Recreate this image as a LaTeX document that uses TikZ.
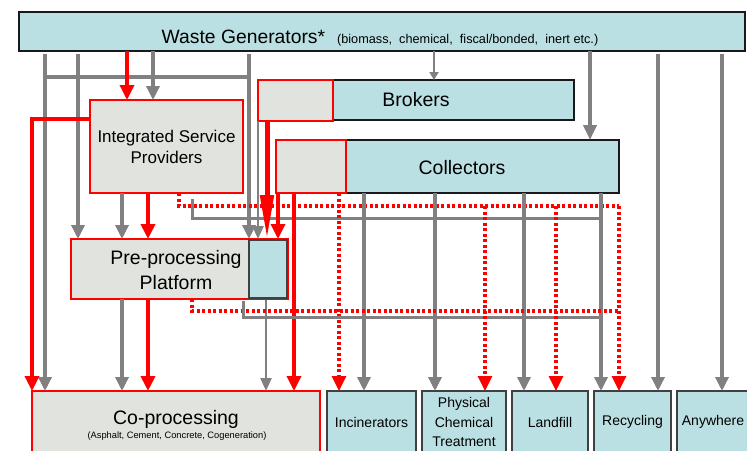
\documentclass[tikz,border=0pt]{standalone}
\usepackage{fontspec}
\setmainfont{Liberation Sans}
\usetikzlibrary{arrows.meta}
\definecolor{cyanfill}{RGB}{187,224,227}
\definecolor{grayfill}{RGB}{225,227,223}
\definecolor{lgray}{RGB}{128,128,128}
\definecolor{dgray}{RGB}{64,64,64}
\definecolor{rred}{RGB}{255,0,0}
\newcommand{\bigf}{\fontsize{19.5}{25}\selectfont}
\begin{document}
\begin{tikzpicture}[x=1pt,y=-1pt,
  cbox/.style={draw=black!90, line width=1.8pt, fill=cyanfill, inner sep=0pt, outer sep=0pt, anchor=north west},
  rbox/.style={draw=rred, line width=2.2pt, fill=grayfill, inner sep=0pt, outer sep=0pt, anchor=north west},
  bbox/.style={draw=dgray, line width=1.3pt, fill=cyanfill, inner sep=0pt, outer sep=0pt, anchor=north west,
    minimum height=62pt, align=center, font=\fontsize{14}{19.5}\selectfont},
  lab/.style={inner sep=0pt, align=center, text=black},
  garr/.style={draw=lgray, line width=3.4pt, -{Triangle[width=13pt,length=14pt]}},
  gthin/.style={draw=lgray, line width=2.3pt, -{Triangle[width=11pt,length=13pt]}},
  gline/.style={draw=lgray, line width=3pt},
  rarr/.style={draw=rred, line width=3.4pt, -{Triangle[width=14pt,length=15pt]}},
  rbig/.style={draw=rred, line width=5pt, -{Triangle[width=13pt,length=44pt]}},
  rdot/.style={draw=rred, line width=3.2pt, dash pattern=on 3pt off 2.5pt},
  rdotarr/.style={rdot, -{Triangle[width=14pt,length=15pt]}},
]
\useasboundingbox (0,0) rectangle (747,450);
\fill[white] (0,0) rectangle (747,450);

% column coordinates
\foreach \c in {32,45,78,122,127,148,153,179,192,243,249,258,266,267,278,294,339,364,434,435,485,524,556,590,601,619,658,722}
  \coordinate (c\c) at (\c,0);
\coordinate (ispL) at (90,119);
\coordinate (ja) at (45,77);
\coordinate (jb) at (249,77);
\coordinate (d206) at (619,206);
\coordinate (g218) at (601,218);
\coordinate (d311) at (619,311);
\coordinate (g317) at (601,317);

% boxes
\node[cbox, line width=2.2pt, minimum width=726pt, minimum height=39pt] (wg) at (19,12) {};
\node[lab, anchor=base] (wgT) at (380,43) {{\fontsize{19.3}{21}\selectfont Waste Generators*}\hspace{12pt}{\fontsize{12.7}{14}\selectfont (biomass,\ \ chemical,\ \ fiscal/bonded,\ \ inert etc.)}};

\node[rbox, minimum width=153pt, minimum height=93pt, align=center, font=\fontsize{17}{21}\selectfont] (isp) at (90,100) {Integrated Service\\Providers};

\node[cbox, minimum width=316pt, minimum height=40pt, font=\fontsize{19.5}{21}\selectfont] (brk) at (258,80) {Brokers};
\node[rbox, minimum width=75pt, minimum height=41pt] (brkR) at (258,80) {};

\node[cbox, minimum width=343pt, minimum height=53pt] (col) at (276,140) {};
\node[rbox, minimum width=70pt, minimum height=53pt] (colR) at (276,140) {};
\node[lab, font=\fontsize{19.5}{21}\selectfont] (colT) at (462,168) {Collectors};

\node[rbox, minimum width=217pt, minimum height=60pt] (pp) at (71,239) {};
\node[lab, font=\bigf] (ppT) at (176,270) {Pre-processing\\Platform};
\node[draw=dgray, line width=1.3pt, fill=cyanfill, inner sep=0pt, outer sep=0pt, anchor=north west,
  minimum width=38pt, minimum height=58pt] (ppC) at (249,240) {};

\node[rbox, minimum width=288pt, minimum height=65pt] (cop) at (32,391) {};
\node[lab, anchor=base, font=\fontsize{19.5}{21}\selectfont] (copT) at (176,424) {Co-processing};
\node[lab, anchor=base, font=\fontsize{9.3}{11}\selectfont] (copS) at (177,438) {(Asphalt, Cement, Concrete, Cogeneration)};

\node[bbox, minimum width=89pt] (inc) at (327,391) {Incinerators};
\node[bbox, minimum width=84pt] (pct) at (422,391) {Physical\\Chemical\\Treatment};
\node[bbox, minimum width=76pt] (lf) at (512,391) {Landfill};
\node[bbox, minimum width=77pt] (rec) at (594,391) {Recycling};
\node[bbox, minimum width=72pt] (any) at (677,391) {Anywhere};

% connectors from waste generators
\draw[gline, line width=4.5pt] (ja) -- (jb);
\draw[garr, shorten <=3pt] (wg.south -| c45) -- (cop.north -| c45);
\draw[garr, shorten <=3pt] (wg.south -| c78) -- (pp.north -| c78);
\draw[garr, shorten <=3pt] (wg.south -| c249) -- (pp.north -| c249);
\draw[garr] (wg.south -| c153) -- (isp.north -| c153);
\draw[rarr] (wg.south -| c127) -- (isp.north -| c127);
\draw[draw=lgray, line width=2.3pt, -{Triangle[width=9pt,length=8pt]}] (wg.south -| c434) -- (brk.north -| c434);
\draw[draw=lgray, line width=3.8pt, -{Triangle[width=13pt,length=15pt]}] (wg.south -| c590) -- (col.north -| c590);
\draw[garr, shorten <=3pt] (wg.south -| c658) -- (rec.north -| c658);
\draw[garr, shorten <=3pt] (wg.south -| c722) -- (any.north -| c722);

% integrated service providers
\draw[rarr] (ispL) -| (cop.north west);
\draw[garr] (isp.south -| c122) -- (pp.north -| c122);
\draw[rarr, line width=3.8pt] (isp.south -| c148) -- (pp.north -| c148);
\draw[rdot] (isp.south -| c179) |- (d206);
\draw[gline, shorten <=6pt] (isp.south -| c192) |- (g218);

% brokers
\draw[gthin] (brkR.south -| c258) -- (pp.north -| c258);
\draw[rbig] (brkR.south -| c267) -- (pp.north -| c267);

% collectors
\draw[rarr] (colR.south -| c278) -- (pp.north -| c278);
\draw[rarr] (colR.south -| c294) -- (cop.north -| c294);
\draw[rdotarr] (colR.south -| c339) -- (inc.north -| c339);
\draw[garr] (col.south -| c364) -- (inc.north -| c364);
\draw[garr] (col.south -| c435) -- (pct.north -| c435);
\draw[garr] (col.south -| c524) -- (lf.north -| c524);
\draw[garr] (col.south -| c601) -- (rec.north -| c601);

% pre-processing
\draw[garr] (pp.south -| c122) -- (cop.north -| c122);
\draw[rarr, line width=3.8pt] (pp.south -| c148) -- (cop.north -| c148);
\draw[gthin, shorten <=2pt] (ppC.south -| c266) -- (cop.north -| c266);
\draw[rdot] (pp.south -| c192) |- (d311);
\draw[gline, shorten <=2pt] (pp.south -| c243) |- (g317);

% red dotted distribution
\draw[rdotarr] (d206) -- (rec.north -| c619);
\draw[rdotarr] (c485 |- d206) -- (pct.north -| c485);
\draw[rdotarr] (c556 |- d206) -- (lf.north -| c556);
\end{tikzpicture}
\end{document}
